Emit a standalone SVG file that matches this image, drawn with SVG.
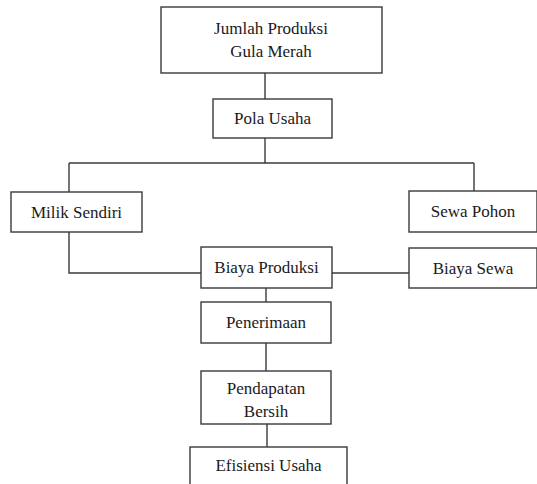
<svg xmlns="http://www.w3.org/2000/svg" width="537" height="484" viewBox="0 0 537 484">
<style>
.box{fill:#fff;stroke:#3a3a3a;stroke-width:1.4}
.ln{fill:none;stroke:#3a3a3a;stroke-width:1.4}
text{font-family:"Liberation Serif","Times New Roman",serif;font-size:17px;fill:#1a1a1a;text-anchor:middle}
</style>
<rect width="537" height="484" fill="#fff"/>
<g id="connectors">
<path class="ln" d="M265 73V99"/>
<path class="ln" d="M265 138V163"/>
<path class="ln" d="M69 163H474"/>
<path class="ln" d="M69 163V192"/>
<path class="ln" d="M474 163V191"/>
<path class="ln" d="M69 232V273H201"/>
<path class="ln" d="M332 273H409"/>
<path class="ln" d="M266 288V302"/>
<path class="ln" d="M266 343V371"/>
<path class="ln" d="M267 424V447"/>
</g>
<g id="jumlah">
<rect class="box" x="161" y="7" width="221" height="66"/>
<text x="271" y="34">Jumlah Produksi</text>
<text x="271" y="57">Gula Merah</text>
</g>
<g id="pola">
<rect class="box" x="213" y="99" width="119" height="39"/>
<text x="272.5" y="124">Pola Usaha</text>
</g>
<g id="milik">
<rect class="box" x="11" y="192" width="131" height="40"/>
<text x="76.5" y="218">Milik Sendiri</text>
</g>
<g id="sewa">
<rect class="box" x="409" y="191" width="128" height="41"/>
<text x="473" y="217">Sewa Pohon</text>
</g>
<g id="biayaproduksi">
<rect class="box" x="201" y="247" width="131" height="41"/>
<text x="266.5" y="273">Biaya Produksi</text>
</g>
<g id="biayasewa">
<rect class="box" x="409" y="248" width="128" height="40"/>
<text x="473" y="274">Biaya Sewa</text>
</g>
<g id="penerimaan">
<rect class="box" x="201" y="302" width="130" height="41"/>
<text x="266" y="328">Penerimaan</text>
</g>
<g id="pendapatan">
<rect class="box" x="201" y="371" width="130" height="53"/>
<text x="266" y="394">Pendapatan</text>
<text x="266" y="417">Bersih</text>
</g>
<g id="efisiensi">
<rect class="box" x="190" y="447" width="157" height="45"/>
<text x="268.5" y="471">Efisiensi Usaha</text>
</g>
</svg>
